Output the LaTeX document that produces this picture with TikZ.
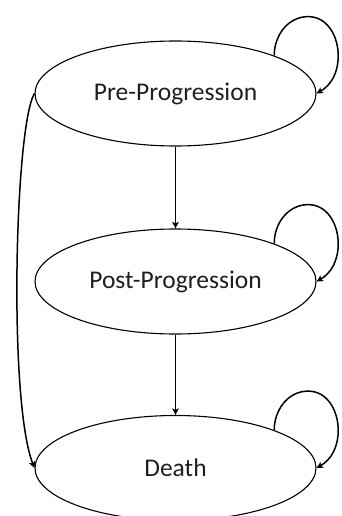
\documentclass[tikz,border=0pt]{standalone}
\usepackage{fontspec}
\setmainfont{Carlito}
\usetikzlibrary{arrows.meta,shapes.geometric,calc}
\begin{document}
\begin{tikzpicture}[x=1pt,y=-1pt,
  state/.style={draw, line width=1.1pt, ellipse, minimum width=281pt, minimum height=105pt, inner sep=0pt, font=\fontsize{25.5}{30}\selectfont, text=black!88},
  conn/.style={line width=1.5pt, -{Stealth[length=6.5pt,width=6.5pt,inset=1.5pt]}}]
\useasboundingbox (0,0) rectangle (341,516);
\node[state] (A) at (175.5,93.5) {Pre-Progression};
\node[state] (B) at (175.5,281.5) {Post-Progression};
\node[state] (C) at (175.5,468) {Death};
\draw[conn] (A.south) -- (B.north);
\draw[conn] (B.south) -- (C.north);
\draw[conn] (A.west) .. controls (15,125) and (8,400) .. (C.west);
\foreach \n in {A,B,C}{
  \draw[conn] (\n.21) to[out=90,in=180] ++(34,-39) to[out=0,in=90] ++(30,39) to[out=-90,in=30] (\n.east);
}
\end{tikzpicture}
\end{document}
